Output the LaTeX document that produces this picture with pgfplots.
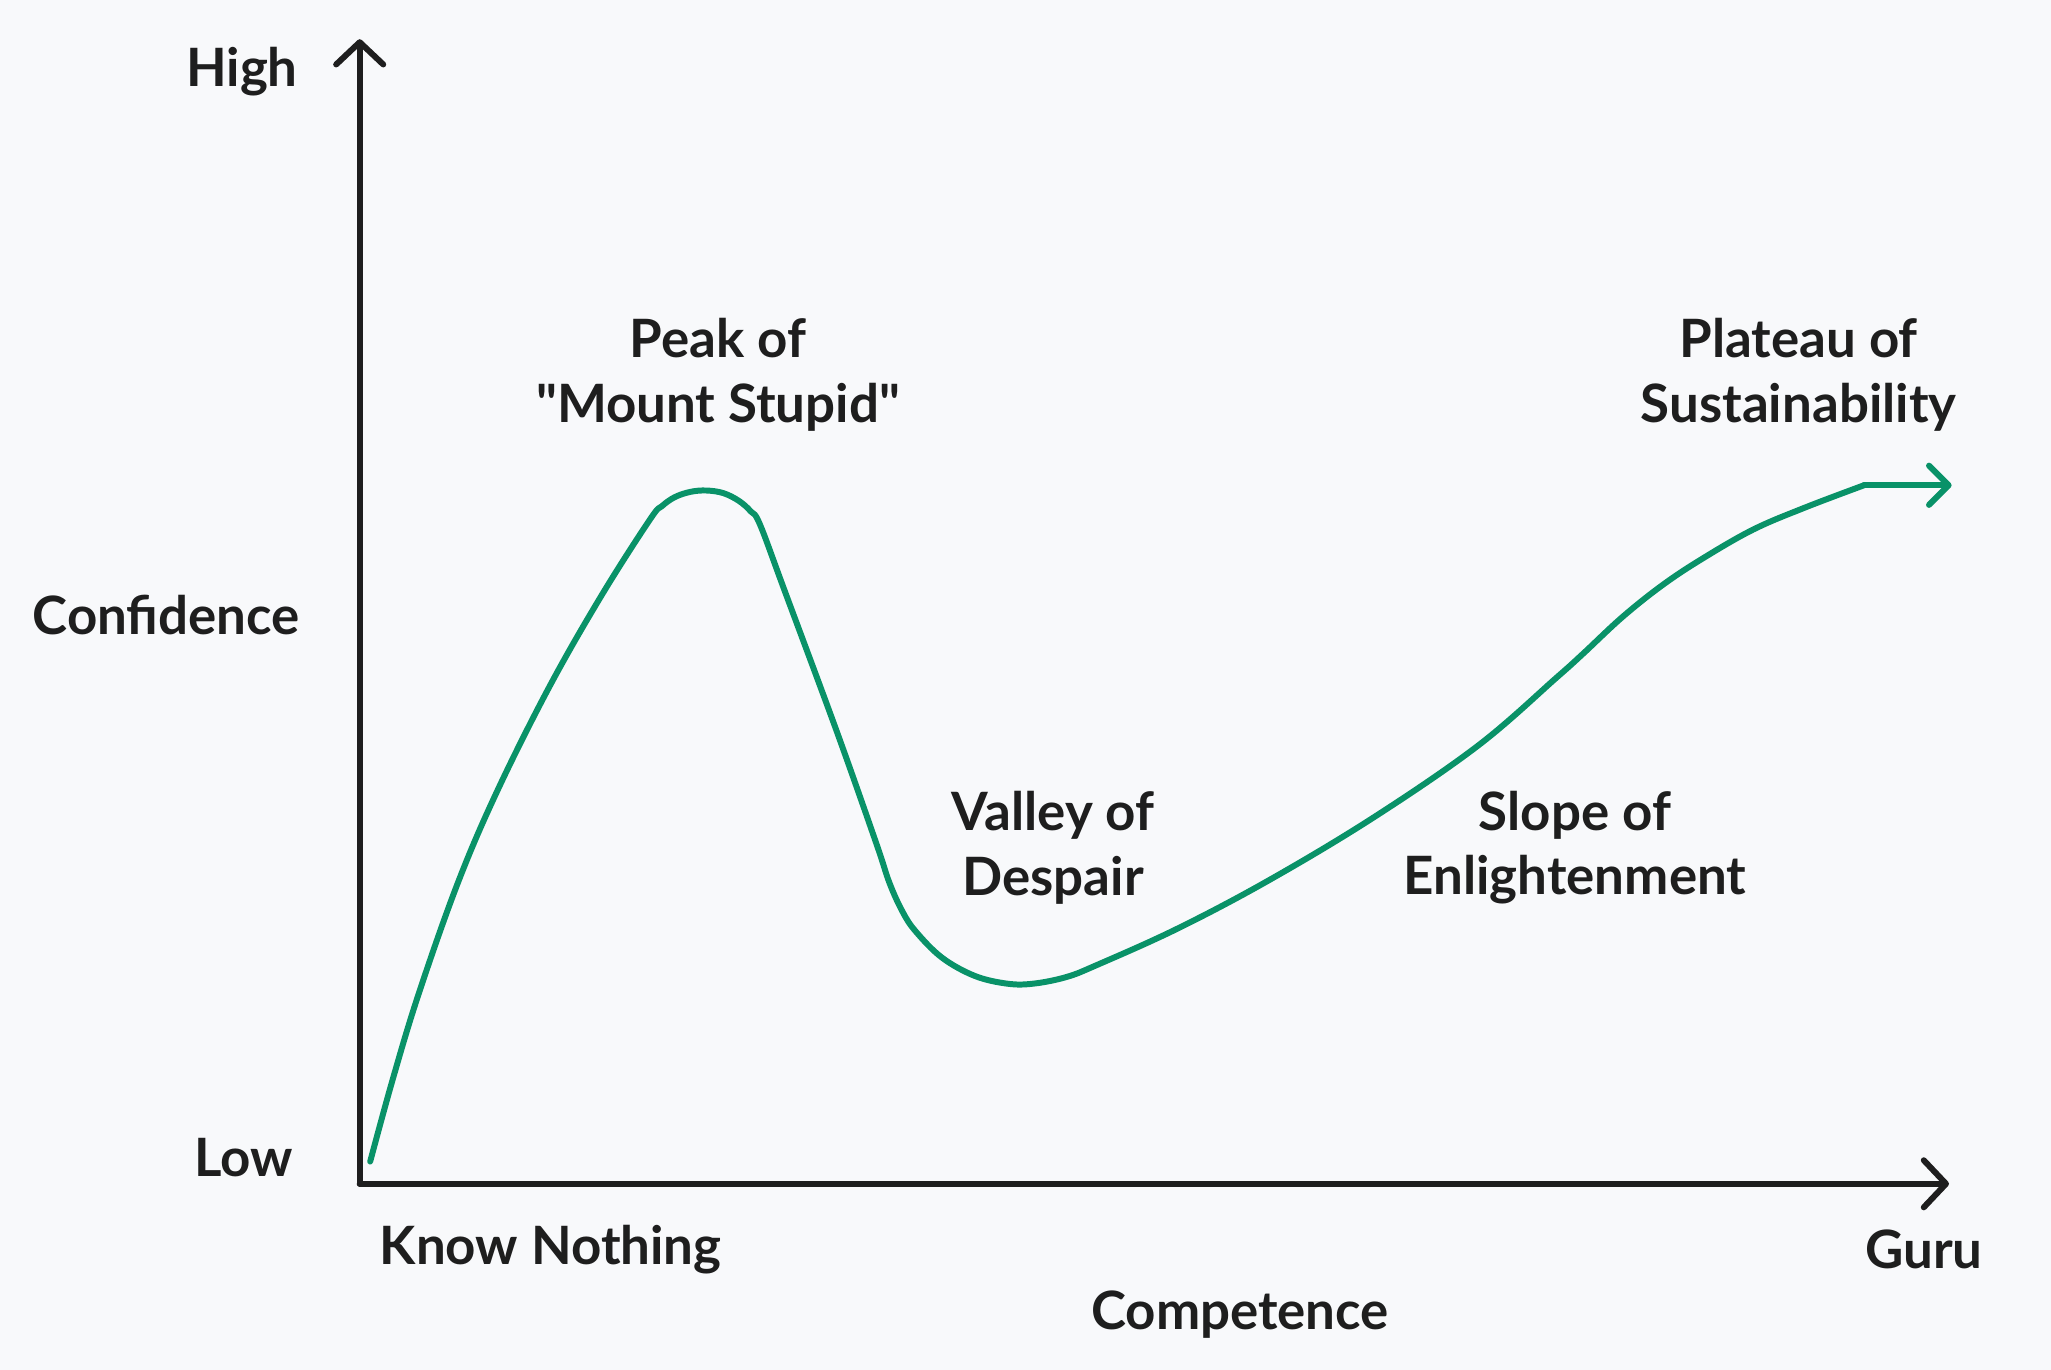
\documentclass[border=0pt]{standalone}
\usepackage{pgfplots}
\pgfplotsset{compat=1.18}
\usepackage{fontspec}
\setmainfont{Lato}[Ligatures=TeXOff]
\usetikzlibrary{arrows.meta}
\definecolor{bg}{HTML}{F8F9FB}
\definecolor{ink}{HTML}{1E1E1E}
\definecolor{grn}{HTML}{099268}
\begin{document}
\begin{tikzpicture}[every node/.style={font=\fontsize{11.5}{14}\selectfont\bfseries, text=ink}]
\fill[bg] (0,0) rectangle (15.68,10.47);
\begin{axis}[
  at={(2.75cm,1.42cm)}, anchor=south west,
  scale only axis, width=12.15cm, height=8.75cm,
  xmin=0, xmax=1215, ymin=0, ymax=875,
  axis lines=left, ticks=none, clip=false,
  axis line style={line width=1.3pt, draw=ink, line cap=round, line join=round,
    -{Straight Barb[length=0.17cm, width=0.36cm, round]}},
]
\addplot[grn, line width=1.3pt, smooth, tension=0.6, line cap=round, line join=round] coordinates {
(8,17) (25,79) (45,145) (75,230) (105,300) (145,380) (185,450) (222,508)
(231,518) (241,525) (253,529) (265,530) (278,528) (290,522) (299,514)
(306,504) (325,453) (365,345) (395,260) (405,230) (415,208) (425,193) (445,173)
(470,159) (495,153) (515,153) (540,158) (563,167) (625,195) (695,232)
(775,280) (855,335) (915,387) (935,405) (965,433) (995,457) (1025,477)
(1065,500) (1105,517) (1150,534)
};
\addplot[grn, line width=1.3pt, line cap=round,
  -{Straight Barb[length=0.15cm, width=0.3cm, round]}] coordinates {
(1150,534) (1217,534)
};
\end{axis}
\node at (1.85,9.92) {High};
\node at (1.27,5.77) {Confidence};
\node at (1.86,1.62) {Low};
\node[anchor=west] at (2.78,0.92) {Know Nothing};
\node at (14.71,0.92) {Guru};
\node at (9.48,0.42) {Competence};
\node[align=center] at (5.49,7.605) {Peak of\\"Mount Stupid"};
\node[align=center] at (8.05,3.99) {Valley of\\Despair};
\node[align=center] at (12.04,3.99) {Slope of\\Enlightenment};
\node[align=center] at (13.75,7.605) {Plateau of\\Sustainability};
\end{tikzpicture}
\end{document}
